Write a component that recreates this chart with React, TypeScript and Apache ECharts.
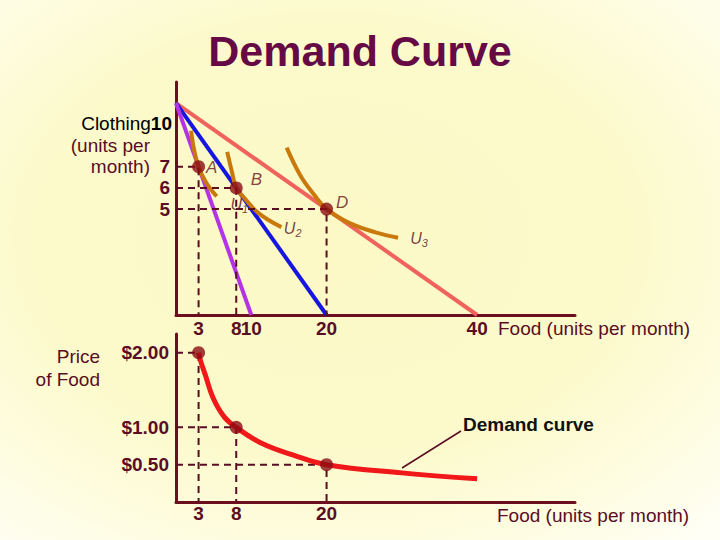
import React, { useEffect, useRef } from "react";
import * as echarts from "echarts";

// ---- data ----
const foodTicksTop = [3, 8, 10, 20, 40];
const clothingTicks = [5, 6, 7];
const foodTicksBottom = [3, 8, 20];
const priceTicks = [0.5, 1, 2];

// budget lines (food, clothing)
const budgetPrice2 = [[0, 10], [10, 0]];
const budgetPrice1 = [[0, 10], [20, 0]];
const budgetPrice05 = [[0, 10], [40, 0]];

// indifference curves
const curveU1 = [[2.0, 8.7], [2.4, 7.8], [3, 7], [4, 6.25], [5.4, 5.6]];
const curveU2 = [[6.8, 7.7], [7.4, 6.8], [8, 6], [9, 5.55], [11, 4.8], [14, 4.15]];
const curveU3 = [[14.7, 7.9], [16.5, 6.6], [18.3, 5.7], [20, 5], [23, 4.35], [26.5, 3.9], [29.5, 3.65]];

// optimal choices
const choiceNames = ["A", "B", "D"];
const choiceFood = [3, 8, 20];
const choiceClothing = [7, 6, 5];

// demand
const demandPrice = [2, 1, 0.5];
const demandCurve = [
  [3, 2], [3.3, 1.88], [3.9, 1.7], [4.9, 1.4], [6.4, 1.14], [8, 1],
  [11.3, 0.79], [15.5, 0.63], [20, 0.5], [30, 0.39], [40, 0.31],
];

// curve labels
const uLabels = [
  { sub: "1", x: 8.4, y: 5.2 },
  { sub: "2", x: 15.5, y: 4.1 },
  { sub: "3", x: 32.3, y: 3.6 },
];

const FONT = '"Liberation Sans", Arial, sans-serif';
const MAROON = "#5A0D24";
const DOT = "#8A0C14";

export default function App() {
  const ref = useRef<HTMLDivElement>(null);

  useEffect(() => {
    if (!ref.current) return;
    const chart = echarts.init(ref.current, undefined, { renderer: "svg" });

    const dashStyle = { color: MAROON, width: 2, type: [7, 5] as any };
    const dashedTop = choiceFood.map((f, i) => ({
      type: "line",
      xAxisIndex: 0,
      yAxisIndex: 0,
      data: [[0, choiceClothing[i]], [f, choiceClothing[i]], [f, 0]],
      symbol: "none",
      lineStyle: dashStyle,
      z: 3,
    }));
    const dashedBottom = choiceFood.map((f, i) => ({
      type: "line",
      xAxisIndex: 1,
      yAxisIndex: 1,
      data: [[0, demandPrice[i]], [f, demandPrice[i]], [f, 0]],
      symbol: "none",
      lineStyle: dashStyle,
      z: 3,
    }));

    const labelPos: any[] = [
      { position: "right", distance: 1, offset: [0, 1] },
      { position: "right", distance: 4, offset: [4, -8] },
      { position: "right", distance: 2, offset: [1, -7] },
    ];

    const axisLineStyle = { show: true, lineStyle: { color: "#6B0F1E", width: 3 } };

    const option: any = {
      animation: false,
      backgroundColor: "transparent",
      title: {
        text: "Demand Curve",
        left: "center",
        top: 24,
        textStyle: { fontSize: 43, fontWeight: "bold", color: "#660A46", fontFamily: FONT },
      },
      grid: [
        { left: 176, top: 82, width: 399, height: 233, outerBoundsMode: "none", containLabel: false },
        { left: 176, top: 334, width: 399, height: 168, outerBoundsMode: "none", containLabel: false },
      ],
      xAxis: [
        {
          type: "value", gridIndex: 0, min: 0, max: 53,
          axisLine: axisLineStyle, axisTick: { show: false }, splitLine: { show: false },
          axisLabel: {
            customValues: foodTicksTop, margin: 4,
            fontSize: 19, fontWeight: "bold", color: MAROON, fontFamily: FONT,
          },
        },
        {
          type: "value", gridIndex: 1, min: 0, max: 53,
          axisLine: axisLineStyle, axisTick: { show: false }, splitLine: { show: false },
          axisLabel: {
            customValues: foodTicksBottom, margin: 2,
            fontSize: 19, fontWeight: "bold", color: MAROON, fontFamily: FONT,
          },
        },
      ],
      yAxis: [
        {
          type: "value", gridIndex: 0, min: 0, max: 11,
          axisLine: axisLineStyle, axisTick: { show: false }, splitLine: { show: false },
          axisLabel: {
            customValues: clothingTicks, margin: 6,
            fontSize: 19, fontWeight: "bold", color: MAROON, fontFamily: FONT,
          },
        },
        {
          type: "value", gridIndex: 1, min: 0, max: 2.25,
          axisLine: axisLineStyle, axisTick: { show: false }, splitLine: { show: false },
          axisLabel: {
            customValues: priceTicks, margin: 7,
            fontSize: 19, fontWeight: "bold", color: MAROON, fontFamily: FONT,
            formatter: (v: number) => "$" + v.toFixed(2),
          },
        },
      ],
      series: [
        { type: "line", xAxisIndex: 0, yAxisIndex: 0, data: budgetPrice05, symbol: "none", lineStyle: { color: "#F0625C", width: 4 }, z: 2 },
        { type: "line", xAxisIndex: 0, yAxisIndex: 0, data: budgetPrice1, symbol: "none", lineStyle: { color: "#1616E0", width: 4 }, z: 2 },
        { type: "line", xAxisIndex: 0, yAxisIndex: 0, data: budgetPrice2, symbol: "none", lineStyle: { color: "#B433E6", width: 4 }, z: 2 },
        ...[curveU1, curveU2, curveU3].map((c) => ({
          type: "line", xAxisIndex: 0, yAxisIndex: 0, data: c, symbol: "none",
          smooth: 0.4,
          lineStyle: { color: "#C9780C", width: 4 }, z: 2,
        })),
        ...dashedTop,
        ...dashedBottom,
        {
          type: "scatter", xAxisIndex: 0, yAxisIndex: 0, symbolSize: 13,
          itemStyle: { color: DOT },
          data: choiceNames.map((n, i) => ({
            value: [choiceFood[i], choiceClothing[i]],
            label: {
              show: true, formatter: n, ...labelPos[i],
              fontSize: 17, fontStyle: "italic", color: "#6B1020", fontFamily: FONT,
            },
          })),
          z: 5,
        },
        {
          type: "scatter", xAxisIndex: 0, yAxisIndex: 0, symbolSize: 1,
          itemStyle: { color: "transparent" },
          data: uLabels.map((u) => ({
            value: [u.x, u.y],
            label: {
              show: true, position: "inside",
              formatter: "{u|U}{s|" + u.sub + "}",
              rich: {
                u: { fontSize: 16, lineHeight: 20, fontStyle: "italic", color: MAROON, fontFamily: FONT },
                s: { fontSize: 11, lineHeight: 11, verticalAlign: "bottom", fontStyle: "italic", color: MAROON, fontFamily: FONT },
              },
            },
          })),
          z: 6,
        },
        {
          type: "line", xAxisIndex: 1, yAxisIndex: 1, data: demandCurve, symbol: "none",
          smooth: 0.4,
          lineStyle: { color: "#F01818", width: 5 }, z: 4,
        },
        {
          type: "scatter", xAxisIndex: 1, yAxisIndex: 1, symbolSize: 13,
          itemStyle: { color: DOT },
          data: choiceFood.map((f, i) => [f, demandPrice[i]]),
          z: 5,
        },
      ],
      graphic: [
        {
          type: "text", x: 172, y: 123,
          style: {
            text: "{a|Clothing}{b|10}", align: "right", verticalAlign: "middle",
            rich: {
              a: { fontSize: 19, color: MAROON, fontFamily: FONT },
              b: { fontSize: 19, fontWeight: "bold", color: MAROON, fontFamily: FONT },
            },
          },
        },
        { type: "text", x: 150, y: 145, style: { text: "(units per", align: "right", verticalAlign: "middle", fontSize: 19, fill: MAROON, fontFamily: FONT } },
        { type: "text", x: 150, y: 166, style: { text: "month)", align: "right", verticalAlign: "middle", fontSize: 19, fill: MAROON, fontFamily: FONT } },
        { type: "text", x: 100, y: 356, style: { text: "Price", align: "right", verticalAlign: "middle", fontSize: 19, fill: MAROON, fontFamily: FONT } },
        { type: "text", x: 100, y: 379, style: { text: "of Food", align: "right", verticalAlign: "middle", fontSize: 19, fill: MAROON, fontFamily: FONT } },
        { type: "text", x: 498, y: 328, style: { text: "Food (units per month)", align: "left", verticalAlign: "middle", fontSize: 19, fill: MAROON, fontFamily: FONT } },
        { type: "text", x: 497, y: 515, style: { text: "Food (units per month)", align: "left", verticalAlign: "middle", fontSize: 19, fill: MAROON, fontFamily: FONT } },
        { type: "text", x: 463, y: 424, style: { text: "Demand curve", align: "left", verticalAlign: "middle", fontSize: 19, fontWeight: "bold", fill: "#111111", fontFamily: FONT } },
        { type: "line", shape: { x1: 402, y1: 468, x2: 461, y2: 431 }, style: { stroke: MAROON, lineWidth: 1.5 } },
      ],
    };

    chart.setOption(option);
    return () => chart.dispose();
  }, []);

  return (
    <div
      ref={ref}
      style={{
        position: "absolute",
        left: 0,
        top: 0,
        width: 720,
        height: 540,
        background:
          "radial-gradient(ellipse 78% 74% at 46% 44%, #FCF9C6 0%, #FCFACC 55%, #FEFDE6 85%, #FFFFF6 100%)",
      }}
    />
  );
}
